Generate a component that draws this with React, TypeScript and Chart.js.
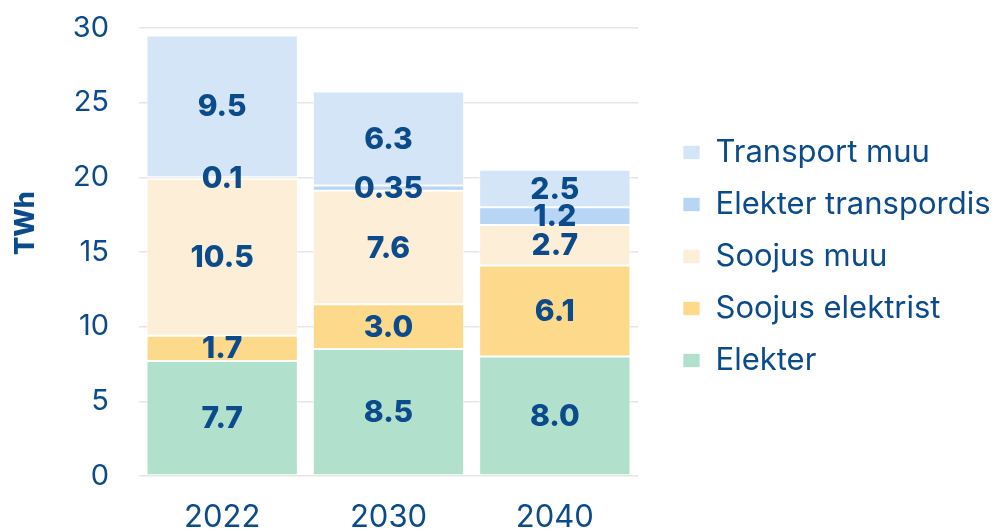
import React, { useEffect, useRef } from 'react';
import { Chart, registerables } from 'chart.js';

Chart.register(...registerables);

const categories = ['2022', '2030', '2040'];
const elekter = [7.7, 8.5, 8.0];
const soojusElektrist = [1.7, 3.0, 6.1];
const soojusMuu = [10.5, 7.6, 2.7];
const elekterTranspordis = [0.1, 0.35, 1.2];
const transportMuu = [9.5, 6.3, 2.5];
const yTicks = [0, 5, 10, 15, 20, 25, 30];
const yTitle = 'TWh';

const TEXT = '#0b4a8b';
const FONT = 'Inter, "Noto Sans", sans-serif';

const fmt = (v: number) => (Math.round(v * 10) === v * 10 ? v.toFixed(1) : String(v));

const valueLabels = {
  id: 'valueLabels',
  afterDatasetsDraw(chart: any) {
    const ctx = chart.ctx;
    ctx.save();
    ctx.fillStyle = TEXT;
    ctx.font = `800 30px ${FONT}`;
    ctx.textAlign = 'center';
    ctx.textBaseline = 'middle';
    chart.data.datasets.forEach((ds: any, di: number) => {
      const meta = chart.getDatasetMeta(di);
      meta.data.forEach((bar: any, i: number) => {
        const { x, y, base } = bar.getProps(['x', 'y', 'base'], true);
        ctx.fillText(fmt(ds.data[i]), x, (y + base) / 2 + 1);
      });
    });
    ctx.restore();
  },
};

const axisTitle = {
  id: 'axisTitle',
  afterDraw(chart: any) {
    const ctx = chart.ctx;
    const s = chart.scales.y;
    ctx.save();
    ctx.fillStyle = TEXT;
    ctx.font = `800 27px ${FONT}`;
    ctx.textAlign = 'center';
    ctx.textBaseline = 'middle';
    ctx.translate(s.left + 26, (chart.chartArea.top + chart.chartArea.bottom) / 2 - 29);
    ctx.rotate(-Math.PI / 2);
    ctx.fillText(yTitle, 0, 0);
    ctx.restore();
  },
};

export default function App() {
  const ref = useRef<HTMLCanvasElement | null>(null);
  useEffect(() => {
    if (!ref.current) return;
    const mk = (label: string, data: number[], color: string) => ({
      label,
      data,
      backgroundColor: color,
      borderColor: 'rgba(255,255,255,0.7)',
      borderWidth: 1,
      borderSkipped: false,
      categoryPercentage: 1,
      barPercentage: 0.91,
    });
    const chart = new Chart(ref.current, {
      type: 'bar',
      data: {
        labels: categories,
        datasets: [
          mk('Elekter', elekter, '#b1e1cc'),
          mk('Soojus elektrist', soojusElektrist, '#fdda8b'),
          mk('Soojus muu', soojusMuu, '#fdefd7'),
          mk('Elekter transpordis', elekterTranspordis, '#b8d5f5'),
          mk('Transport muu', transportMuu, '#d3e5f6'),
        ],
      },
      options: {
        animation: false,
        responsive: false,
        devicePixelRatio: 1,
        layout: { padding: { top: 28, bottom: 0, right: 0, left: 0 } },
        plugins: {
          tooltip: { enabled: false },
          legend: {
            position: 'right',
            reverse: true,
            fullSize: false,
            maxWidth: 337,
            title: { display: true, text: ' ', font: { size: 9, lineHeight: 1 }, padding: 0 },
            labels: {
              boxWidth: 17,
              boxHeight: 14,
              padding: 21,
              color: TEXT,
              font: { family: FONT, size: 31 },
            },
          },
        },
        scales: {
          x: {
            stacked: true,
            grid: { display: false },
            border: { display: false },
            ticks: { color: TEXT, font: { family: FONT, size: 31 }, padding: 15 },
            afterFit: (s: any) => {
              s.height = 53;
              s.paddingLeft = 0;
              s.paddingRight = 0;
            },
          },
          y: {
            stacked: true,
            min: 0,
            max: 30,
            afterBuildTicks: (s: any) => {
              s.ticks = yTicks.map((v) => ({ value: v }));
            },
            afterFit: (s: any) => {
              s.width = 139;
              s.paddingTop = 0;
              s.paddingBottom = 0;
            },
            grid: { color: '#e6e6e6', drawTicks: false, lineWidth: 1.5 },
            border: { display: false },
            ticks: { color: TEXT, font: { family: FONT, size: 29 }, padding: 30 },
          },
          gap: {
            type: 'linear',
            position: 'right',
            display: true,
            grid: { display: false },
            border: { display: false },
            ticks: { display: false },
            afterFit: (s: any) => {
              s.width = 24;
              s.paddingTop = 0;
              s.paddingBottom = 0;
            },
          },
        },
      },
      plugins: [valueLabels, axisTitle],
    } as any);
    return () => chart.destroy();
  }, []);
  return (
    <div style={{ position: 'fixed', left: 0, top: 0, width: 999, height: 529, background: '#fff' }}>
      <canvas ref={ref} width={999} height={529} style={{ width: 999, height: 529, display: 'block' }} />
    </div>
  );
}
